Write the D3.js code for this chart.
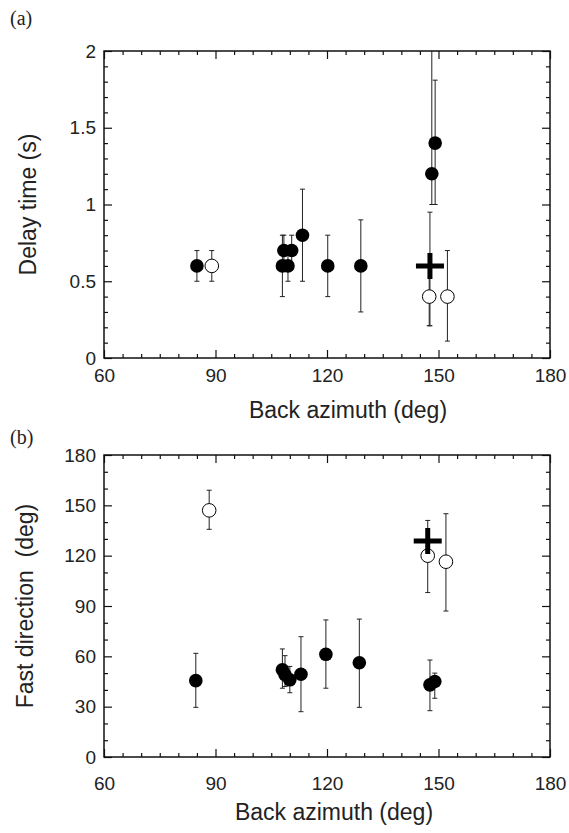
<!DOCTYPE html>
<html>
<head>
<meta charset="utf-8">
<script src="https://cdn.jsdelivr.net/npm/d3@7"></script>
<style>
	body { margin: 0; background: #fff; }
	svg { display: block; }
	text { font-family: "Liberation Sans", Arial, sans-serif; fill: #222; }
</style>
</head>
<body>
<svg width="569" height="833"></svg>
<script>
	// azimuth axis, shared by both panels
	var azTicks = [60, 90, 120, 150, 180]

	// panel (a): delay time
	var delayAz = [85, 108, 109.5, 108.4, 110.5, 113.4, 120.2, 129.1, 148.2, 149.1, 89, 147.5, 152.4]
	var delayVal = [0.6, 0.6, 0.6, 0.7, 0.7, 0.8, 0.6, 0.6, 1.2, 1.4, 0.6, 0.4, 0.4]
	var delayLo = [0.5, 0.4, 0.5, 0.6, 0.6, 0.5, 0.4, 0.3, 1.0, 1.0, 0.5, 0.21, 0.11]
	var delayHi = [0.7, 0.8, 0.7, 0.8, 0.8, 1.1, 0.8, 0.9, 2.3, 1.81, 0.7, 0.6, 0.7]
	var delayOpen = [0, 0, 0, 0, 0, 0, 0, 0, 0, 0, 1, 1, 1]
	var delayTicks = [0, 0.5, 1, 1.5, 2]
	var delayMean = { az: 147.7, val: 0.6, lo: 0.21, hi: 0.95 }

	// panel (b): fast direction
	var fastAz = [84.7, 108, 108.7, 110, 113, 119.7, 128.7, 147.7, 149, 88.3, 147.1, 152]
	var fastVal = [45.5, 52, 49, 46, 49.3, 61.2, 56.2, 43, 45, 147, 120, 116.4]
	var fastLo = [29.6, 41, 42, 38.3, 27, 41, 29.6, 27.6, 35, 135.7, 98, 87]
	var fastHi = [61.8, 64.4, 60.4, 54, 71.7, 81.7, 82.2, 57.8, 50, 159, 141, 145]
	var fastOpen = [0, 0, 0, 0, 0, 0, 0, 0, 0, 1, 1, 1]
	var fastTicks = [0, 30, 60, 90, 120, 150, 180]
	var fastMean = { az: 147.1, val: 128.7, lo: 128.7, hi: 128.7 }

	var svg = d3.select('svg')
	var left = 104, right = 550

	var x = d3.scaleLinear().domain([60, 180]).range([left, right])

	function rows(az, val, lo, hi, open) {
		return az.map(function(d, i) {
			return { az: d, val: val[i], lo: lo[i], hi: hi[i], open: open[i] }
		})
	}

	function panel(opt) {
		var y = d3.scaleLinear().domain(opt.domain).range([opt.bottom, opt.top])
		var g = svg.append('g')

		var minorX = d3.range(60, 181, 5).filter(function(d) { return d % 30 })
		var minorY = d3.range(opt.domain[0], opt.domain[1] + 1e-9, opt.minor)
			.filter(function(d) { return opt.ticks.every(function(t) { return Math.abs(t - d) > 1e-6 }) })

		// inward ticks on all four sides
		g.append('g').attr('transform', 'translate(0,' + opt.bottom + ')')
			.call(d3.axisBottom(x).tickValues(azTicks).tickSize(-8).tickSizeOuter(0).tickPadding(opt.xPad))
		g.append('g').attr('transform', 'translate(0,' + opt.bottom + ')')
			.call(d3.axisBottom(x).tickValues(minorX).tickSize(-4).tickSizeOuter(0).tickFormat(''))
		g.append('g').attr('transform', 'translate(0,' + opt.top + ')')
			.call(d3.axisTop(x).tickValues(azTicks).tickSize(-8).tickSizeOuter(0).tickFormat(''))
		g.append('g').attr('transform', 'translate(0,' + opt.top + ')')
			.call(d3.axisTop(x).tickValues(minorX).tickSize(-4).tickSizeOuter(0).tickFormat(''))

		g.append('g').attr('transform', 'translate(' + left + ',0)')
			.call(d3.axisLeft(y).tickValues(opt.ticks).tickSize(-8).tickSizeOuter(0).tickPadding(8)
				.tickFormat(d3.format('~g')))
		g.append('g').attr('transform', 'translate(' + left + ',0)')
			.call(d3.axisLeft(y).tickValues(minorY).tickSize(-4).tickSizeOuter(0).tickFormat(''))
		g.append('g').attr('transform', 'translate(' + right + ',0)')
			.call(d3.axisRight(y).tickValues(opt.ticks).tickSize(-8).tickSizeOuter(0).tickFormat(''))
		g.append('g').attr('transform', 'translate(' + right + ',0)')
			.call(d3.axisRight(y).tickValues(minorY).tickSize(-4).tickSizeOuter(0).tickFormat(''))

		g.selectAll('.domain').remove()
		g.selectAll('.tick line').attr('stroke', '#111').attr('stroke-width', 1.2)
		g.selectAll('.tick text').attr('font-size', 19).attr('fill', '#222')
			.attr('font-family', '"Liberation Sans", Arial, sans-serif')

		g.append('rect')
			.attr('x', left).attr('y', opt.top)
			.attr('width', right - left).attr('height', opt.bottom - opt.top)
			.attr('fill', 'none').attr('stroke', '#111').attr('stroke-width', 1.5)

		var plot = g.append('g')
		var data = opt.data

		// error bars, clipped at the frame
		function cy(v) { return y(Math.min(Math.max(v, opt.domain[0]), opt.domain[1])) }
		var bars = plot.selectAll('g.err').data(data.concat([opt.mean])).enter().append('g')
			.attr('stroke', '#222').attr('stroke-width', 1)
		bars.append('line')
			.attr('x1', function(d) { return x(d.az) }).attr('x2', function(d) { return x(d.az) })
			.attr('y1', function(d) { return cy(d.lo) }).attr('y2', function(d) { return cy(d.hi) })
		bars.filter(function(d) { return d.hi <= opt.domain[1] && d.hi !== d.val }).append('line')
			.attr('x1', function(d) { return x(d.az) - 2.5 }).attr('x2', function(d) { return x(d.az) + 2.5 })
			.attr('y1', function(d) { return y(d.hi) }).attr('y2', function(d) { return y(d.hi) })
		bars.filter(function(d) { return d.lo !== d.val }).append('line')
			.attr('x1', function(d) { return x(d.az) - 2.5 }).attr('x2', function(d) { return x(d.az) + 2.5 })
			.attr('y1', function(d) { return y(d.lo) }).attr('y2', function(d) { return y(d.lo) })

		plot.selectAll('circle').data(data).enter().append('circle')
			.attr('cx', function(d) { return x(d.az) })
			.attr('cy', function(d) { return y(d.val) })
			.attr('r', 6.8)
			.attr('fill', function(d) { return d.open ? '#fff' : '#000' })
			.attr('stroke', '#000')
			.attr('stroke-width', function(d) { return d.open ? 1 : 0 })

		// mean value marked with a thick cross
		var mx = x(opt.mean.az), my = y(opt.mean.val)
		plot.append('path')
			.attr('d', 'M' + (mx - 14) + ',' + my + 'H' + (mx + 14) + 'M' + mx + ',' + (my - 13) + 'V' + (my + 13))
			.attr('stroke', '#000').attr('stroke-width', 5).attr('fill', 'none')

		svg.append('text')
			.attr('x', opt.titleX).attr('y', opt.titleY)
			.attr('text-anchor', 'middle').attr('dy', '0.35em')
			.attr('font-size', 23)
			.text('Back azimuth (deg)')

		svg.append('text')
			.attr('transform', 'translate(' + opt.labelX + ',' + ((opt.top + opt.bottom) / 2) + ') rotate(-90)')
			.attr('text-anchor', 'middle').attr('dy', '0.35em')
			.attr('font-size', 23)
			.style('white-space', 'pre')
			.text(opt.label)

		svg.append('text')
			.attr('x', 10).attr('y', opt.tagY)
			.attr('dy', '0.35em')
			.attr('font-size', 20)
			.style('font-family', '"Liberation Serif", "Times New Roman", serif')
			.text(opt.tag)
	}

	panel({
		domain: [0, 2], top: 51, bottom: 358, ticks: delayTicks, minor: 0.1,
		xPad: 11, titleX: 348, titleY: 410, labelX: 28, label: 'Delay time (s)',
		tag: '(a)', tagY: 18,
		data: rows(delayAz, delayVal, delayLo, delayHi, delayOpen), mean: delayMean
	})

	panel({
		domain: [0, 180], top: 455, bottom: 757, ticks: fastTicks, minor: 10,
		xPad: 20, titleX: 334, titleY: 812, labelX: 25, label: 'Fast direction  (deg)',
		tag: '(b)', tagY: 437,
		data: rows(fastAz, fastVal, fastLo, fastHi, fastOpen), mean: fastMean
	})
</script>
</body>
</html>
